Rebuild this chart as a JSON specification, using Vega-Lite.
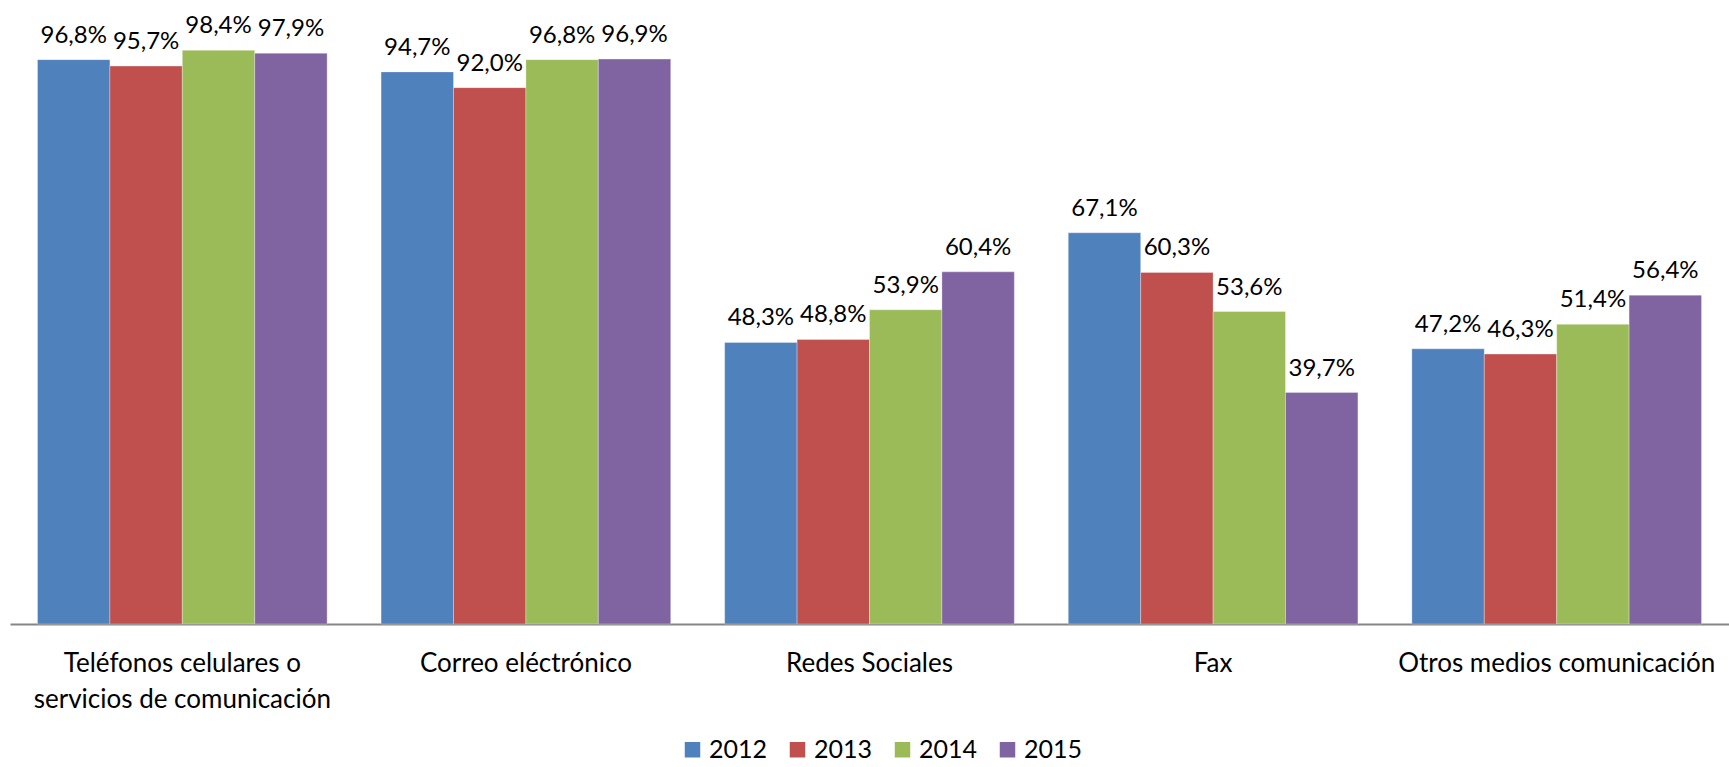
{
  "$schema": "https://vega.github.io/schema/vega-lite/v6.json",
  "autosize": {"type": "none"},
  "width": 1719,
  "height": 583,
  "padding": {"left": 10, "top": 41, "right": 0, "bottom": 143},
  "background": "white",
  "config": {
    "view": {"stroke": null},
    "font": "Lato",
    "locale": {"number": {"decimal": ",", "thousands": ".", "grouping": [3], "currency": ["", " €"]}}
  },
  "data": {
    "values": [
      {"medio": "Teléfonos celulares o servicios de comunicación", "anio": "2012", "valor": 0.968},
      {"medio": "Teléfonos celulares o servicios de comunicación", "anio": "2013", "valor": 0.957},
      {"medio": "Teléfonos celulares o servicios de comunicación", "anio": "2014", "valor": 0.984},
      {"medio": "Teléfonos celulares o servicios de comunicación", "anio": "2015", "valor": 0.979},
      {"medio": "Correo eléctrónico", "anio": "2012", "valor": 0.947},
      {"medio": "Correo eléctrónico", "anio": "2013", "valor": 0.920},
      {"medio": "Correo eléctrónico", "anio": "2014", "valor": 0.968},
      {"medio": "Correo eléctrónico", "anio": "2015", "valor": 0.969},
      {"medio": "Redes Sociales", "anio": "2012", "valor": 0.483},
      {"medio": "Redes Sociales", "anio": "2013", "valor": 0.488},
      {"medio": "Redes Sociales", "anio": "2014", "valor": 0.539},
      {"medio": "Redes Sociales", "anio": "2015", "valor": 0.604},
      {"medio": "Fax", "anio": "2012", "valor": 0.671},
      {"medio": "Fax", "anio": "2013", "valor": 0.603},
      {"medio": "Fax", "anio": "2014", "valor": 0.536},
      {"medio": "Fax", "anio": "2015", "valor": 0.397},
      {"medio": "Otros medios comunicación", "anio": "2012", "valor": 0.472},
      {"medio": "Otros medios comunicación", "anio": "2013", "valor": 0.463},
      {"medio": "Otros medios comunicación", "anio": "2014", "valor": 0.514},
      {"medio": "Otros medios comunicación", "anio": "2015", "valor": 0.564}
    ]
  },
  "encoding": {
    "x": {
      "field": "medio", "type": "nominal", "sort": null,
      "scale": {"paddingInner": 0.157, "paddingOuter": 0.08},
      "axis": {
        "title": null, "labelAngle": 0, "ticks": false,
        "domainColor": "#868686", "domainWidth": 2,
        "labelFontSize": 26, "labelColor": "#000000", "labelPadding": 26,
        "labelLineHeight": 36, "labelLimit": 0,
        "labelExpr": "datum.label == 'Teléfonos celulares o servicios de comunicación' ? ['Teléfonos celulares o', 'servicios de comunicación'] : datum.label"
      }
    },
    "xOffset": {"field": "anio", "type": "nominal", "scale": {"paddingInner": 0, "paddingOuter": 0}},
    "y": {
      "field": "valor", "type": "quantitative",
      "scale": {"domain": [0, 1]},
      "axis": null
    }
  },
  "layer": [
    {
      "mark": {"type": "bar", "stroke": "white", "strokeWidth": 0.5, "strokeOpacity": 0.6},
      "encoding": {
        "color": {
          "field": "anio", "type": "nominal",
          "scale": {"domain": ["2012", "2013", "2014", "2015"], "range": ["#4F81BD", "#C0504D", "#9BBB59", "#8064A2"]},
          "legend": {
            "title": null, "orient": "none", "direction": "horizontal",
            "legendX": 670, "legendY": 696,
            "symbolType": "square", "symbolSize": 240, "symbolStrokeWidth": 0,
            "labelFontSize": 25, "labelColor": "#000000", "columnPadding": 17
          }
        }
      }
    },
    {
      "mark": {"type": "text", "baseline": "bottom", "dy": -12, "fontSize": 24, "color": "#000000"},
      "encoding": {
        "text": {"field": "valor", "type": "quantitative", "format": ".1%"}
      }
    }
  ]
}
